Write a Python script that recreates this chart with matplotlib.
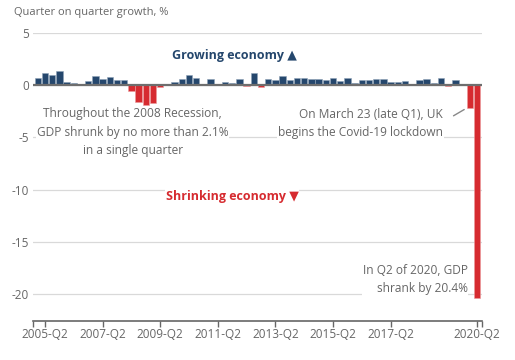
import matplotlib
matplotlib.use("Agg")
import matplotlib.pyplot as plt
import numpy as np

plt.rcParams['font.family'] = ['Open Sans', 'DejaVu Sans']

# quarter on quarter GDP growth, 2005-Q1 .. 2020-Q2
years = list(range(2005, 2021))
quarters = [f"{y}-Q{q}" for y in years for q in range(1, 5)][:62]
growth = [0.7, 1.15, 1.0, 1.4,
          0.3, 0.2, 0.0, 0.4,
          0.85, 0.55, 0.75, 0.45,
          0.45, -0.6, -1.6, -1.9,
          -1.7, -0.2, 0.03, 0.3,
          0.55, 0.95, 0.65, 0.05,
          0.55, 0.05, 0.3, 0.2,
          0.55, -0.1, 1.2, -0.2,
          0.55, 0.45, 0.85, 0.5,
          0.65, 0.65, 0.55, 0.55,
          0.45, 0.65, 0.4, 0.65,
          0.2, 0.5, 0.5, 0.55,
          0.55, 0.3, 0.3, 0.4,
          0.1, 0.5, 0.6, 0.2,
          0.65, -0.1, 0.5, 0.0,
          -2.2, -20.4]
tick_labels = ["2005-Q2", "2007-Q2", "2009-Q2", "2011-Q2",
               "2013-Q2", "2015-Q2", "2017-Q2", "2020-Q2"]

blue = '#25476d'
red = '#d62b30'
grey = '#666666'

fig = plt.figure(figsize=(5.15, 3.6), dpi=100)
ax = fig.add_axes([33/515, 1-321/360, 449/515, 288/360])

x = np.arange(len(growth))
vals = np.array(growth)
cols = [blue if v >= 0 else red for v in vals]
edges = ['#8fa3b8' if v >= 0 else '#eb9a9c' for v in vals]
ax.bar(x, vals, width=0.88, color=cols, edgecolor=edges, linewidth=0.4, zorder=3)

ax.axhline(0, color='#6e6e6e', lw=1.6, zorder=4)
ax.set_xlim(-0.67, 61.69)
ax.set_ylim(-22.6, 5)
ax.set_yticks([5, 0, -5, -10, -15, -20])
ax.set_yticklabels(['5', '0', '-5', '-10', '-15', '-20'])
ax.yaxis.grid(True, color='#d9d9d9', lw=0.9, zorder=0)
ax.set_axisbelow(True)

ax.set_xticks([quarters.index(t) for t in tick_labels])
ax.set_xticklabels(tick_labels)
ax.set_xticks(ax.get_xlim(), minor=True)
ax.tick_params(axis='x', which='both', direction='out', length=4, width=1, color=grey,
               labelsize=8.5, labelcolor=grey, pad=1)
ax.tick_params(axis='y', length=0, labelsize=8.5, labelcolor=grey, pad=3)

for s in ['top', 'right', 'left']:
    ax.spines[s].set_visible(False)
ax.spines['bottom'].set_color(grey)
ax.spines['bottom'].set_linewidth(1.2)

fig.text(14/515, 1-12/360, 'Quarter on quarter growth, %', fontsize=8, color=grey,
         va='center', ha='left')

wb = dict(facecolor='white', edgecolor='none', pad=0.5)
ax.text(27.25, 2.88, 'Growing economy \u25B2', color=blue, fontsize=9, fontweight='bold',
        ha='center', va='center', zorder=5)
ax.text(27.0, -10.64, 'Shrinking economy \u25BC', color=red, fontsize=9, fontweight='bold',
        ha='center', va='center', bbox=wb, zorder=5)
ax.text(13.2, -4.5, 'Throughout the 2008 Recession,\nGDP shrunk by no more than 2.1%\nin a single quarter',
        color=grey, fontsize=8.6, ha='center', va='center', linespacing=1.55, bbox=wb, zorder=5)
ax.text(56.3, -3.69, 'On March 23 (late Q1), UK\nbegins the Covid-19 lockdown',
        color=grey, fontsize=8.6, ha='right', va='center', linespacing=1.55, bbox=wb, zorder=5)
ax.text(59.7, -18.6, 'In Q2 of 2020, GDP\nshrank by 20.4%',
        color=grey, fontsize=8.6, ha='right', va='center', linespacing=1.55, bbox=wb, zorder=5)

ax.annotate('', xy=(60 - 0.45, growth[60]), xytext=(57.4, -3.07),
            arrowprops=dict(arrowstyle='-', color='#888888', lw=1.0), zorder=5)

plt.savefig('out.png', dpi=100)
